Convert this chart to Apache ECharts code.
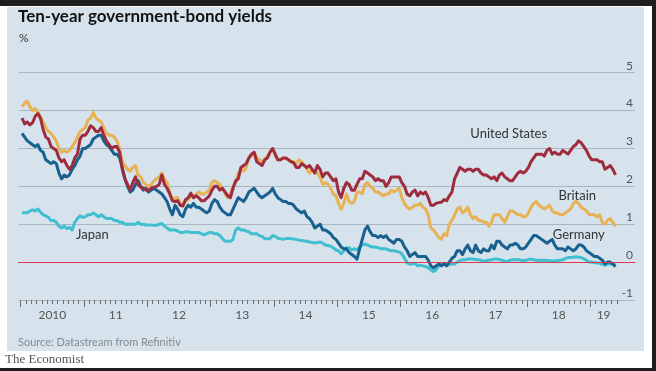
<!DOCTYPE html>
<html>
<head>
<meta charset="utf-8">
<script src="https://cdn.jsdelivr.net/npm/echarts@6/dist/echarts.min.js"></script>
<style>
html,body{margin:0;padding:0;background:#fff;}
#wrap{position:relative;width:656px;height:371px;overflow:hidden;background:#fff;}
#panel{position:absolute;left:7px;top:7px;width:637px;height:344px;background:#d6e3ec;}
#topbar{position:absolute;left:0;top:0;width:656px;height:6px;background:#1e1e1e;}
#rightbar{position:absolute;left:652px;top:0;width:4px;height:371px;background:#1e1e1e;}
#botbar{position:absolute;left:0;top:368px;width:656px;height:3px;background:#1e1e1e;}
#c{position:absolute;left:0;top:0;width:656px;height:371px;}
</style>
</head>
<body>
<div id="wrap">
<div id="panel"></div><div id="topbar"></div><div id="rightbar"></div><div id="botbar"></div>
<div id="c"></div>
</div>
<script>
// Semi-monthly readings (two per month) starting January 2010, ending May 2019. Units: %.
const unitedStates = [
 3.80,3.65,3.70,3.62,3.68,3.85,3.92,3.80,3.50,3.30,3.25,3.05,3.00,2.95,2.75,2.65,2.70,2.55,2.45,2.55,2.75,2.85,3.25,3.35,
 3.35,3.45,3.60,3.55,3.45,3.45,3.55,3.35,3.20,3.10,3.00,3.05,3.05,2.90,2.45,2.20,2.05,1.90,2.10,2.25,2.05,1.98,1.95,1.90,
 1.90,1.95,1.98,2.00,2.05,2.30,2.05,1.95,1.80,1.62,1.60,1.62,1.50,1.48,1.65,1.70,1.82,1.70,1.75,1.70,1.62,1.62,1.68,1.75,
 1.90,2.00,2.00,1.90,1.95,1.85,1.75,1.70,1.95,2.15,2.20,2.50,2.55,2.60,2.75,2.85,2.90,2.65,2.60,2.55,2.70,2.75,2.90,3.00,
 2.85,2.70,2.70,2.75,2.75,2.70,2.65,2.62,2.50,2.50,2.60,2.55,2.50,2.55,2.45,2.35,2.55,2.45,2.25,2.35,2.35,2.25,2.15,2.20,
 1.85,1.70,1.95,2.10,2.05,1.90,1.90,2.05,2.20,2.20,2.40,2.35,2.30,2.25,2.15,2.20,2.15,2.15,2.00,2.10,2.25,2.25,2.25,2.25,
 2.10,2.00,1.80,1.75,1.85,1.90,1.75,1.85,1.80,1.85,1.70,1.50,1.50,1.55,1.57,1.58,1.65,1.62,1.75,1.85,2.20,2.35,2.50,2.45,
 2.40,2.45,2.45,2.40,2.45,2.45,2.35,2.30,2.30,2.25,2.20,2.25,2.15,2.30,2.35,2.25,2.20,2.15,2.15,2.25,2.35,2.40,2.35,2.40,
 2.50,2.65,2.75,2.85,2.85,2.85,2.80,2.95,3.00,2.85,2.90,2.85,2.85,2.95,2.90,2.85,2.95,3.05,3.10,3.20,3.15,3.05,2.95,2.80,
 2.70,2.70,2.70,2.65,2.65,2.45,2.50,2.55,2.45,2.30
];
const britain = [
 4.10,4.20,4.25,4.10,4.00,4.05,3.95,3.85,3.70,3.55,3.45,3.40,3.30,3.20,3.00,2.90,2.95,2.90,2.95,3.05,3.15,3.30,3.45,3.50,
 3.55,3.75,3.80,3.95,3.80,3.75,3.70,3.55,3.40,3.35,3.35,3.30,3.20,3.00,2.65,2.55,2.45,2.40,2.50,2.55,2.30,2.25,2.10,2.05,
 2.00,2.05,2.15,2.20,2.25,2.35,2.20,2.10,1.85,1.65,1.70,1.70,1.55,1.50,1.60,1.65,1.75,1.70,1.80,1.85,1.80,1.80,1.85,1.90,
 2.10,2.15,2.10,2.05,1.95,1.80,1.70,1.80,2.00,2.10,2.35,2.45,2.40,2.50,2.75,2.80,2.90,2.75,2.70,2.65,2.70,2.80,2.90,3.00,
 2.80,2.70,2.70,2.75,2.75,2.70,2.65,2.65,2.60,2.70,2.65,2.55,2.45,2.35,2.45,2.40,2.35,2.25,2.05,2.10,2.05,1.95,1.80,1.75,
 1.55,1.40,1.55,1.80,1.60,1.55,1.60,1.85,1.85,1.80,2.05,2.10,2.00,1.95,1.85,1.85,1.80,1.75,1.80,1.80,1.90,1.85,1.90,1.95,
 1.70,1.55,1.45,1.40,1.45,1.50,1.50,1.55,1.45,1.40,1.25,0.90,0.85,0.75,0.65,0.60,0.75,0.70,1.00,1.10,1.25,1.40,1.45,1.30,
 1.35,1.45,1.25,1.15,1.20,1.10,1.10,1.05,1.05,0.95,1.05,1.25,1.25,1.25,1.15,1.05,1.20,1.35,1.35,1.30,1.25,1.25,1.20,1.20,
 1.30,1.45,1.55,1.60,1.50,1.45,1.40,1.45,1.50,1.35,1.30,1.30,1.25,1.25,1.30,1.35,1.40,1.55,1.60,1.55,1.45,1.40,1.35,1.25,
 1.25,1.25,1.20,1.25,1.05,1.00,1.10,1.15,1.05,0.95
];
const germany = [
 3.40,3.30,3.20,3.15,3.10,3.05,3.10,2.95,2.90,2.70,2.65,2.60,2.65,2.60,2.35,2.20,2.30,2.25,2.30,2.45,2.55,2.70,2.80,3.00,
 3.00,3.05,3.10,3.25,3.30,3.35,3.35,3.20,3.10,3.05,2.95,2.85,2.85,2.75,2.50,2.20,2.00,1.85,1.90,2.05,2.15,2.00,1.90,1.95,
 1.85,1.90,1.95,1.90,1.85,1.80,1.70,1.60,1.40,1.25,1.50,1.40,1.25,1.20,1.40,1.50,1.45,1.55,1.45,1.45,1.40,1.35,1.30,1.35,
 1.55,1.65,1.60,1.45,1.35,1.30,1.25,1.25,1.40,1.55,1.70,1.65,1.60,1.70,1.85,1.90,1.95,1.85,1.75,1.70,1.75,1.80,1.85,1.95,
 1.80,1.70,1.65,1.60,1.60,1.55,1.55,1.50,1.40,1.35,1.30,1.35,1.20,1.15,1.05,0.90,0.95,1.00,0.85,0.85,0.80,0.75,0.65,0.60,
 0.50,0.40,0.35,0.35,0.25,0.20,0.15,0.08,0.35,0.60,0.85,0.95,0.80,0.70,0.70,0.65,0.70,0.65,0.70,0.60,0.55,0.50,0.60,0.60,
 0.55,0.40,0.30,0.15,0.20,0.25,0.15,0.15,0.15,0.15,0.05,-0.10,-0.15,-0.10,-0.05,-0.10,-0.05,-0.10,0.00,0.10,0.15,0.30,0.30,0.20,
 0.35,0.45,0.30,0.25,0.45,0.30,0.25,0.35,0.30,0.30,0.45,0.35,0.55,0.55,0.45,0.40,0.35,0.45,0.45,0.50,0.45,0.35,0.35,0.40,
 0.50,0.60,0.70,0.70,0.65,0.60,0.55,0.50,0.55,0.60,0.45,0.35,0.35,0.35,0.30,0.40,0.35,0.30,0.35,0.45,0.45,0.40,0.30,0.25,
 0.20,0.15,0.15,0.10,0.05,-0.05,0.00,0.00,-0.05,-0.12
];
const japan = [
 1.30,1.30,1.30,1.35,1.38,1.35,1.40,1.32,1.25,1.22,1.18,1.10,1.10,1.05,0.95,0.90,0.95,0.88,0.92,0.85,1.05,1.15,1.22,1.18,
 1.20,1.25,1.25,1.30,1.25,1.20,1.25,1.20,1.15,1.15,1.15,1.10,1.10,1.05,1.05,1.00,1.00,1.00,1.00,1.00,1.05,1.00,1.00,0.98,
 0.98,0.98,0.97,0.97,1.00,1.02,0.95,0.90,0.85,0.85,0.85,0.82,0.78,0.78,0.80,0.80,0.78,0.78,0.78,0.78,0.75,0.72,0.75,0.78,
 0.78,0.75,0.75,0.70,0.62,0.55,0.55,0.55,0.60,0.85,0.90,0.85,0.85,0.82,0.80,0.75,0.75,0.75,0.70,0.68,0.62,0.62,0.62,0.70,
 0.68,0.63,0.62,0.60,0.62,0.63,0.62,0.61,0.60,0.58,0.57,0.56,0.55,0.53,0.52,0.50,0.52,0.53,0.50,0.45,0.44,0.42,0.38,0.32,
 0.30,0.22,0.30,0.38,0.38,0.32,0.35,0.32,0.40,0.45,0.48,0.45,0.42,0.40,0.40,0.38,0.35,0.35,0.35,0.32,0.30,0.30,0.28,0.27,
 0.22,0.10,-0.02,-0.05,-0.05,-0.03,-0.10,-0.08,-0.10,-0.12,-0.15,-0.20,-0.25,-0.20,-0.10,-0.05,-0.05,-0.08,-0.06,-0.05,-0.05,0.00,0.04,0.06,
 0.06,0.08,0.08,0.08,0.07,0.06,0.05,0.02,0.04,0.05,0.06,0.08,0.08,0.07,0.05,0.03,0.02,0.05,0.06,0.06,0.07,0.05,0.04,0.05,
 0.07,0.08,0.06,0.05,0.04,0.05,0.05,0.04,0.04,0.03,0.03,0.04,0.05,0.06,0.10,0.12,0.12,0.13,0.14,0.13,0.12,0.09,0.05,0.00,
 0.00,-0.02,-0.02,-0.03,-0.06,-0.08,-0.05,-0.05,-0.05,-0.08
];
// X axis: months since January 2010
const xLabels = ['2010','11','12','13','14','15','16','17','18','19'];
const xLabelMonths = [6,18,30,42,54,66,78,90,102,110.5];
const yearStartMonths = [0,12,24,36,48,60,72,84,96,108];
const lastTickMonth = 113;

const monthTicks = [];
for (let m = 0; m <= lastTickMonth; m++) monthTicks.push(m);

function toPoints(arr) {
  // sample i sits at the middle of its half-month
  return arr.map((v, i) => [i * 0.5 + 0.25, v]);
}

const FONT = 'Lato';
const X_MIN = -0.4, X_MAX = 116.45;
const chart = echarts.init(document.getElementById('c'), null, {renderer: 'canvas'});

function nameLabel(text, x, y) {
  return {
    symbol: 'rect', symbolSize: 1, silent: true,
    itemStyle: {color: 'rgba(0,0,0,0)'},
    label: {show: true, position: 'inside', formatter: text, color: '#333', fontSize: 13, fontFamily: FONT},
    data: [{coord: [x, y]}]
  };
}

function lineSeries(name, arr, color, label) {
  return {
    name: name, type: 'line', data: toPoints(arr), xAxisIndex: 0, yAxisIndex: 0,
    showSymbol: false, symbol: 'none', smooth: false,
    lineStyle: {color: color, width: 3, join: 'round'},
    itemStyle: {color: color},
    emphasis: {disabled: true},
    markPoint: label
  };
}

function tickAxis(values, len) {
  return {
    type: 'value', min: X_MIN, max: X_MAX, position: 'bottom', offset: 0,
    axisLine: {show: false},
    axisTick: {show: true, length: len, customValues: values, lineStyle: {color: '#6d6d6d', width: 1}},
    axisLabel: {show: false},
    splitLine: {show: false}
  };
}

const option = {
  backgroundColor: 'transparent',
  animation: false,
  textStyle: {fontFamily: FONT},
  title: {
    text: 'Ten-year government-bond yields',
    left: 18, top: 8, padding: 0,
    textStyle: {fontFamily: FONT, fontWeight: 'bold', fontSize: 17, color: '#121212'}
  },
  grid: {left: 18.6, right: 21, top: 72.7, bottom: 71, containLabel: false, outerBoundsMode: 'none'},
  xAxis: [
    {
      type: 'value', min: X_MIN, max: X_MAX, position: 'bottom',
      axisLine: {show: true, lineStyle: {color: '#6d6d6d', width: 1}},
      axisTick: {show: false},
      axisLabel: {
        show: true, customValues: xLabelMonths, margin: 9,
        formatter: function (v) { const i = xLabelMonths.indexOf(v); return i >= 0 ? xLabels[i] : ''; },
        color: '#555', fontSize: 12, fontFamily: FONT
      },
      splitLine: {show: false}
    },
    tickAxis(monthTicks, 4),
    tickAxis(yearStartMonths, 7)
  ],
  yAxis: {
    type: 'value', position: 'right', min: -1, max: 5, interval: 1,
    axisLine: {show: false}, axisTick: {show: false},
    splitLine: {show: true, lineStyle: {color: '#a9b6bf', width: 1}},
    axisLabel: {inside: true, align: 'right', verticalAlign: 'bottom', margin: 2, padding: [0, 0, 1, 0],
      color: '#555', fontSize: 12, fontFamily: FONT}
  },
  graphic: [
    {type: 'text', left: 19, top: 32, style: {text: '%', fill: '#333', fontSize: 12, fontFamily: FONT}},
    {type: 'text', left: 18, top: 337, style: {text: 'Source: Datastream from Refinitiv', fill: '#858b90', fontSize: 11, fontFamily: FONT}},
    {type: 'text', left: 5, top: 353, style: {text: 'The Economist', fill: '#555', fontSize: 13, fontFamily: 'Liberation Serif'}}
  ],
  series: [
    Object.assign(lineSeries('Japan', japan, '#3fbfcf', nameLabel('Japan', 13.6, 0.72)), {
      markLine: {silent: true, symbol: 'none', label: {show: false},
        lineStyle: {color: '#de3a4c', width: 1, type: 'solid'}, data: [{yAxis: 0}]}
    }),
    lineSeries('Britain', britain, '#e8b151', nameLabel('Britain', 105.5, 1.76)),
    lineSeries('Germany', germany, '#17608f', nameLabel('Germany', 105.8, 0.72)),
    lineSeries('United States', unitedStates, '#9e2b3e', nameLabel('United States', 92.5, 3.39))
  ]
};
chart.setOption(option);
</script>
</body>
</html>
